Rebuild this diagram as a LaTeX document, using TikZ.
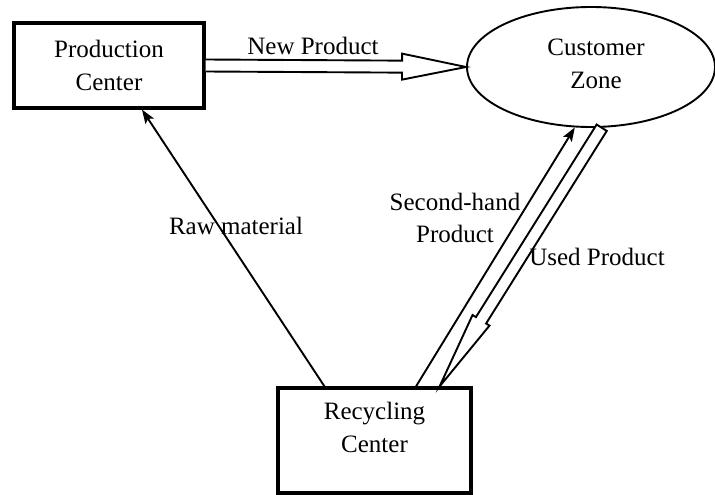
\documentclass[tikz,border=0pt]{standalone}
\usepackage{fontspec}
\setmainfont{Liberation Serif}
\usetikzlibrary{calc,shapes.geometric,arrows.meta}

% Block arrow drawn as an outline: tail, tip, shaft half-width,
% head half-width, head length, optional closing of the tail.
\newcommand\hollowarrow[6]{%
  \path ($(#2)!#5!(#1)$) coordinate (#2-base);
  \filldraw[hollow] ($(#1)!#3!90:(#2)$) -- ($(#2-base)!#3!90:(#2)$)
    -- ($(#2-base)!#4!90:(#2)$) -- (#2) -- ($(#2-base)!#4!-90:(#2)$)
    -- ($(#2-base)!#3!-90:(#2)$) -- ($(#1)!#3!-90:(#2)$) #6;
}

\begin{document}
\begin{tikzpicture}[x=1pt,y=-1pt,
  every node/.style={font=\fontsize{25}{32.5}\selectfont},
  box/.style={draw, line width=3.2pt, inner sep=0pt},
  zone/.style={draw, ellipse, line width=1.9pt, inner sep=0pt,
    minimum width=248pt, minimum height=120pt},
  lbl/.style={inner sep=0pt},
  flow/.style={line width=1.9pt, -{Stealth[length=14pt,width=10pt,inset=3pt]}},
  hollow/.style={draw, fill=white, line width=1.9pt, line join=miter}]
\useasboundingbox (0,0) rectangle (715,495);
\fill[white] (0,0) rectangle (715,495);

% centres
\node[box, minimum width=190pt, minimum height=85pt, align=center] (pc) at (109,65.5) {Production\\Center};
\node[zone] (cz) at (591,67) {};
\node[lbl, align=center] (czt) at (596,64) {Customer\\Zone};
\node[box, minimum width=193pt, minimum height=105pt] (rc) at (374.5,440.5) {};
\node[lbl, align=center] (rct) at (374.5,427.5) {Recycling\\Center};

% flows
\draw[flow] ($(rc.north)+(-50,0)$) -- ($(pc.south)+(33,0)$);
\draw[flow] ($(rc.north)+(41.5,0)$) -- (cz.-105);

\coordinate (npT) at (pc.east);
\coordinate (npH) at (cz.west);
\hollowarrow{npT}{npH}{6pt}{13pt}{64pt}{}

\coordinate (upT) at (cz.-80);
\coordinate (upH) at ($(rc.north east)+(-33,0)$);
\hollowarrow{upT}{upH}{6pt}{10pt}{78pt}{-- cycle}

% flow labels
\node[lbl, anchor=base] (npl) at (313,55) {New Product};
\node[lbl, anchor=base] (rml) at (236,234) {Raw material};
\node[lbl, align=center] (shl) at (455,218) {Second-hand\\Product};
\node[lbl, anchor=base] (upl) at (597,265) {Used Product};
\end{tikzpicture}
\end{document}
